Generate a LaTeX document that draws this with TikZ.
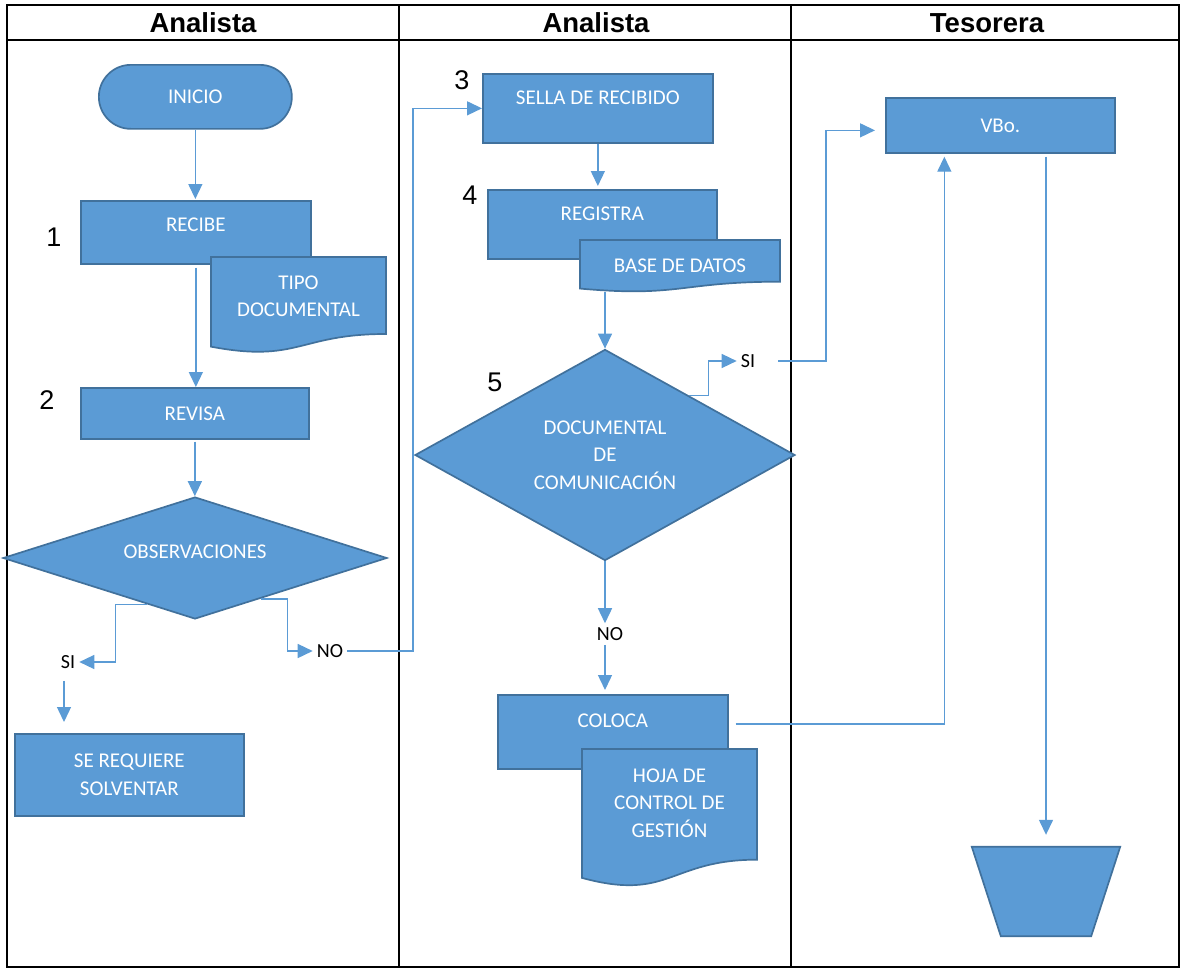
\documentclass[tikz,border=0pt]{standalone}
\usepackage{fontspec}
\setmainfont{Carlito}
\newfontfamily\arialfont{Liberation Sans}
\usetikzlibrary{arrows.meta,shapes.geometric,calc}

\definecolor{shapefill}{HTML}{5B9BD5}
\definecolor{shapeedge}{HTML}{41719C}
\definecolor{linkblue}{HTML}{5B9BD5}

% document symbol with a wavy bottom edge; the named node carries the text
\newcommand\docnode[7]{% name, left, top, right, height, text centre y, text
  \filldraw[shapebox] (#2,#3) -- (#4,#3) -- (#4,{#3+0.802*#5})
    .. controls ({(#2+#4)/2},{#3+0.802*#5}) and ({(#2+#4)/2},{#3+1.107*#5}) .. (#2,{#3+0.934*#5}) -- cycle;
  \node[boxtext] (#1) at ({(#2+#4)/2},#6) {#7};
  \coordinate (#1-base) at ({(#2+#4)/2},{#3+#5});
}

\begin{document}
\begin{tikzpicture}[x=1pt,y=-1pt,
  shapebox/.style={draw=shapeedge, fill=shapefill, line width=1.7pt},
  procbox/.style={shapebox, rectangle, inner sep=0pt, anchor=north west},
  boxtext/.style={text=white, font=\fontsize{21}{27.5}\selectfont, align=center, inner sep=1pt},
  tagtext/.style={text=black, font=\fontsize{20}{24}\selectfont, inner sep=4pt},
  stepnum/.style={font=\arialfont\fontsize{27}{30}\selectfont, inner sep=0pt},
  lanehead/.style={font=\arialfont\bfseries\fontsize{27.5}{30}\selectfont, inner sep=0pt},
  conn/.style={draw=linkblue, line width=1.4pt},
  connarrow/.style={conn, -{Triangle[length=15pt,width=14pt]}},
  laneline/.style={draw=black, line width=2pt}
]
\useasboundingbox (0,0) rectangle (1181,969);

% swimlane table
\draw[laneline] (7,5) rectangle (1179,967);
\draw[laneline] (7,40) -- (1179,40);
\draw[laneline] (399,5) -- (399,967);
\draw[laneline] (791,5) -- (791,967);
\node[lanehead] (lane1) at (203,23) {Analista};
\node[lanehead] (lane2) at (596,23) {Analista};
\node[lanehead] (lane3) at (987,23) {Tesorera};

% first lane
\node[procbox, boxtext, rounded corners=32pt, minimum width=193pt, minimum height=64pt] (inicio) at (98,64) {INICIO};
\node[procbox, minimum width=230pt, minimum height=63pt] (recibe) at (80,200) {};
\node[boxtext] (recibeT) at ($(recibe.north)+(0,25)$) {RECIBE};
\node[stepnum] (n1) at (54,237) {1};
\docnode{tipo}{211}{257}{386}{96}{296.5}{TIPO\\DOCUMENTAL}
\node[procbox, boxtext, minimum width=228pt, minimum height=51pt] (revisa) at (80,387) {REVISA};
\node[stepnum] (n2) at (47,400) {2};
\node[shapebox, diamond, minimum width=384pt, minimum height=122pt, inner sep=0pt] (obs) at (195,558) {};
\node[boxtext] (obsT) at (195,552) {OBSERVACIONES};
\node[tagtext] (si1) at (68,662) {SI};
\node[procbox, boxtext, minimum width=229pt, minimum height=82pt] (solv) at (14,733) {SE REQUIERE\\SOLVENTAR};
\node[tagtext] (no1) at (330,651) {NO};

% second lane
\node[procbox, minimum width=230pt, minimum height=69pt] (sella) at (482,73) {};
\node[boxtext] (sellaT) at ($(sella.north)+(0,25)$) {SELLA DE RECIBIDO};
\node[stepnum] (n3) at (462,80) {3};
\node[procbox, minimum width=229pt, minimum height=69pt] (registra) at (487,189) {};
\node[boxtext] (registraT) at ($(registra.north)+(0,25)$) {REGISTRA};
\node[stepnum] (n4) at (470,195) {4};
\docnode{bdd}{580}{240}{780}{52}{266}{BASE DE DATOS}
\node[shapebox, diamond, boxtext, minimum width=380pt, minimum height=206pt, inner sep=0pt] (dec) at (605,455) {DOCUMENTAL\\DE\\COMUNICACIÓN};
\node[stepnum] (n5) at (495,382) {5};
\node[tagtext] (si2) at (748,361) {SI};
\node[tagtext] (no2) at (610,634) {NO};
\node[procbox, minimum width=230pt, minimum height=74pt] (coloca) at (497,694) {};
\node[boxtext] (colocaT) at ($(coloca.north)+(0,27)$) {COLOCA};
\docnode{hoja}{582}{749}{757}{138}{803}{HOJA DE\\CONTROL DE\\GESTIÓN}

% third lane
\node[procbox, boxtext, minimum width=229pt, minimum height=55pt] (vbo) at (885,97) {VBo.};
\node[minimum width=148pt, minimum height=89pt, inner sep=0pt] (manual) at (1046,891.5) {};
\filldraw[shapebox] (manual.north west) -- (manual.north east)
  -- ($(manual.south east)+(-29,0)$) -- ($(manual.south west)+(29,0)$) -- cycle;

% connectors
\draw[connarrow, shorten >=1pt] (inicio.south) -- (inicio.south |- recibe.north);
\draw[connarrow] ($(recibe.south)+(0,3)$) -- (recibe.south |- revisa.north);
\draw[connarrow] ($(revisa.south)+(0,2)$) -- (revisa.south |- obs.north);
\draw[connarrow] ($(obs.west)!0.75!(obs.south)$) -| ($(si1.east)+(36,0)$) -- (si1.east);
\coordinate (siDown) at ($(si1.south)+(-4,8)$);
\draw[connarrow, shorten >=11pt] (siDown) -- (siDown |- solv.north);
\draw[connarrow] ($(obs.east)!0.66!(obs.south)$) -| ($(no1.west)+(-25,0)$) -- (no1.west);
\draw[connarrow] (no1.east) -| ($(sella.west)+(-69,0)$) -- (sella.west);
\draw[connarrow, shorten >=3pt] (sella.south) -- (sella.south |- registra.north);
\draw[connarrow] (dec.north |- bdd-base) -- (dec.north);
\draw[connarrow] ($(dec.north)!0.44!(dec.east)$) -| ($(si2.west)+(-28,0)$) -- (si2.west);
\draw[connarrow, shorten <=19pt, shorten >=10pt] (si2.east) -| ($(vbo.west)+(-59,5)$) -- ($(vbo.west)+(0,5)$);
\draw[connarrow] (dec.south) -- (dec.south |- no2.north);
\draw[connarrow, shorten >=4pt] (dec.south |- no2.south) -- (dec.south |- coloca.north);
\draw[connarrow, shorten >=3pt] ($(coloca.east)+(7,-8)$) -| ($(vbo.south)+(-56,0)$);
\draw[connarrow, shorten >=12pt] ($(manual.north |- vbo.south)+(0,3)$) -- (manual.north);
\end{tikzpicture}
\end{document}
